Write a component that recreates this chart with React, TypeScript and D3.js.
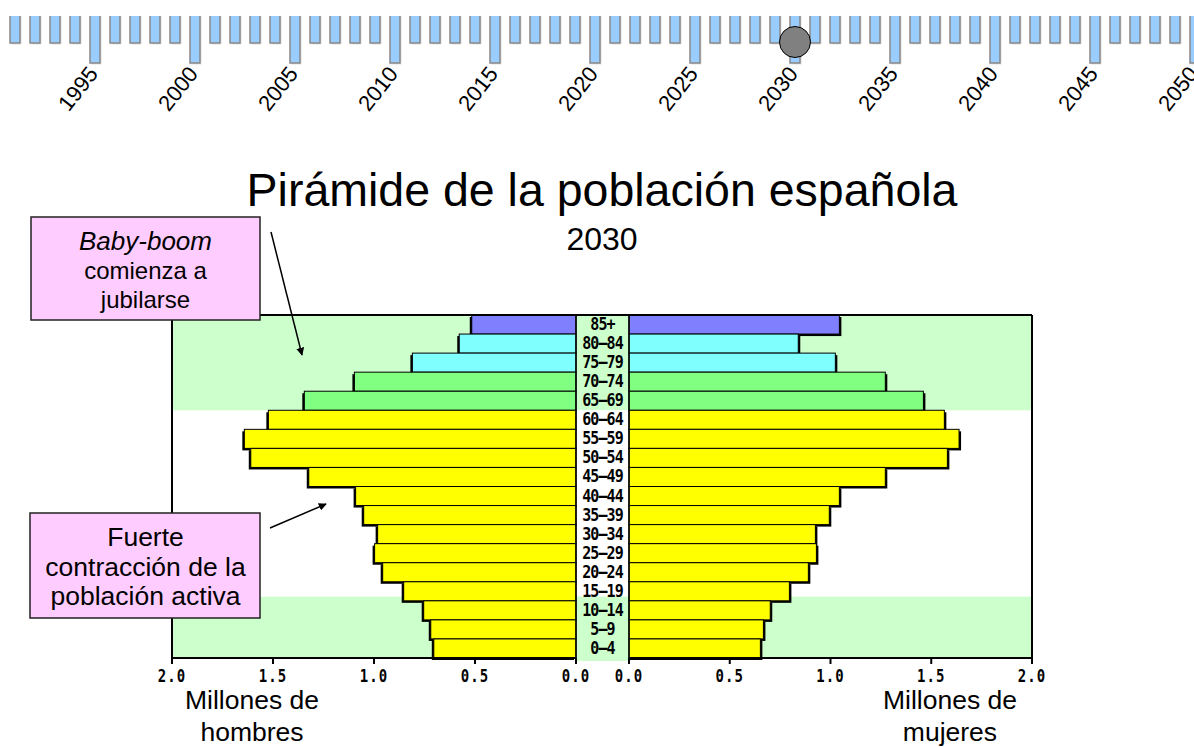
import React from 'react';
import * as d3 from 'd3';

// ---- Data ----
const ageGroups = ['85+', '80-84', '75-79', '70-74', '65-69', '60-64', '55-59', '50-54', '45-49', '40-44', '35-39', '30-34', '25-29', '20-24', '15-19', '10-14', '5-9', '0-4'];
const hombres = [0.516, 0.578, 0.81, 1.097, 1.345, 1.523, 1.642, 1.61, 1.323, 1.091, 1.051, 0.982, 0.997, 0.957, 0.853, 0.754, 0.719, 0.704];
const mujeres = [1.044, 0.84, 1.024, 1.272, 1.461, 1.565, 1.638, 1.58, 1.272, 1.044, 0.994, 0.925, 0.93, 0.89, 0.796, 0.701, 0.667, 0.652];
const xTicks = [0, 0.5, 1, 1.5, 2];
const timelineYears = d3.range(1991, 2051);
const labelYears = [1995, 2000, 2005, 2010, 2015, 2020, 2025, 2030, 2035, 2040, 2045, 2050];
const selectedYear = 2030;
const titleText = 'Pirámide de la población española';

const W = 1194;
const H = 747;
const SANS = '"Liberation Sans", Arial, sans-serif';
const MONO = '"DejaVu Sans Mono", monospace';

function colorOf(age: string): string {
  if (age === '85+') return '#8080ff';
  if (age === '80-84' || age === '75-79') return '#80ffff';
  if (age === '70-74' || age === '65-69') return '#80ff80';
  return '#ffff00';
}

export default function App() {
  const top = 315;
  const bottom = 658;
  const xL = d3.scaleLinear().domain([0, 2]).range([576, 172]);
  const xR = d3.scaleLinear().domain([0, 2]).range([629, 1032]);
  const y = d3.scaleBand<string>().domain(ageGroups).range([top, bottom]).padding(0);
  const bw = y.bandwidth();
  const fmt = d3.format('.1f');

  const xYear = d3.scaleLinear().domain([1991, 2050]).range([10, 1190]);
  const barW = 10;

  const greenTopEnd = (y('65-69') as number) + bw;
  const greenBottomStart = (y('10-14') as number) - 0.22 * bw;

  const shadow = 2;
  const midX = (xL(0) + xR(0)) / 2;

  return (
    <svg width={W} height={H} style={{ position: 'absolute', left: 0, top: 0, background: '#fff' }}>
      <defs>
        <marker id="arr" viewBox="0 0 10 10" refX="9" refY="5" markerWidth="8" markerHeight="8" orient="auto" markerUnits="userSpaceOnUse">
          <path d="M0,0 L10,5 L0,10 z" fill="#000" />
        </marker>
      </defs>

      {/* Timeline */}
      {timelineYears.map((yr) => {
        const x0 = xYear(yr);
        const long = yr % 5 === 0;
        const yb = long ? 63 : 43;
        return (
          <g key={yr}>
            <rect x={x0 + 1.5} y={16} width={barW} height={yb - 16 + 1.5} fill="#e0e0e0" />
            <rect x={x0} y={16} width={barW} height={yb - 16} fill="#99ccff" />
            <path d={`M${x0},16 V${yb} H${x0 + barW} V16`} fill="none" stroke="#888" strokeWidth={1.5} />
          </g>
        );
      })}
      {labelYears.map((yr) => {
        const x0 = xYear(yr) + 9;
        return (
          <text key={yr} x={x0} y={74} transform={`rotate(-52, ${x0}, 74)`} textAnchor="end" fontFamily={SANS} fontSize={22} fill="#000">
            {yr}
          </text>
        );
      })}
      <circle cx={xYear(selectedYear) + barW / 2} cy={42} r={15.5} fill="#808080" stroke="#000" strokeWidth={1} />

      {/* Title */}
      <text x={602} y={206} textAnchor="middle" fontFamily={SANS} fontSize={46.5} fill="#000">{titleText}</text>
      <text x={602} y={250} textAnchor="middle" fontFamily={SANS} fontSize={32} fill="#000">{String(selectedYear)}</text>

      {/* Background bands */}
      <rect x={xL(2)} y={top} width={xR(2) - xL(2)} height={greenTopEnd - top} fill="#ccffcc" />
      <rect x={xL(2)} y={greenBottomStart} width={xR(2) - xL(2)} height={bottom - greenBottomStart} fill="#ccffcc" />
      <rect x={xL(0)} y={greenBottomStart} width={xR(0) - xL(0)} height={bottom + 3 - greenBottomStart} fill="#ccffcc" />

      {/* Bars: shadows */}
      {ageGroups.map((a, i) => (
        <g key={'s' + a}>
          <rect x={xL(hombres[i]) - shadow} y={(y(a) as number) + shadow} width={xL(0) - xL(hombres[i])} height={bw} fill="#000" />
          <rect x={xR(0)} y={(y(a) as number) + shadow} width={xR(mujeres[i]) - xR(0) + shadow} height={bw} fill="#000" />
        </g>
      ))}
      {/* Bars */}
      {ageGroups.map((a, i) => (
        <g key={'b' + a}>
          <rect x={xL(hombres[i])} y={y(a)} width={xL(0) - xL(hombres[i])} height={bw} fill={colorOf(a)} stroke="#000" strokeWidth={1} />
          <rect x={xR(0)} y={y(a)} width={xR(mujeres[i]) - xR(0)} height={bw} fill={colorOf(a)} stroke="#000" strokeWidth={1} />
        </g>
      ))}

      {/* Label column background (cover shadows) */}
      <rect x={xL(0) + 1} y={top} width={xR(0) - xL(0) - 2} height={greenTopEnd - top} fill="#ccffcc" />
      <rect x={xL(0) + 1} y={greenTopEnd} width={xR(0) - xL(0) - 2} height={greenBottomStart - greenTopEnd} fill="#fff" />
      <rect x={xL(0) + 1} y={greenBottomStart} width={xR(0) - xL(0) - 2} height={bottom + 3 - greenBottomStart} fill="#ccffcc" />

      {/* Frame lines */}
      <line x1={xL(2)} x2={xR(2)} y1={top} y2={top} stroke="#000" strokeWidth={2} />
      <line x1={xL(2)} x2={xL(2)} y1={top} y2={bottom} stroke="#000" strokeWidth={2} />
      <line x1={xR(2)} x2={xR(2)} y1={top} y2={bottom} stroke="#000" strokeWidth={2} />
      <line x1={xL(0)} x2={xL(0)} y1={top} y2={bottom + 5} stroke="#000" strokeWidth={1.5} />
      <line x1={xR(0)} x2={xR(0)} y1={top} y2={bottom + 5} stroke="#000" strokeWidth={1.5} />
      <line x1={xL(2)} x2={xL(0)} y1={bottom} y2={bottom} stroke="#000" strokeWidth={2} />
      <line x1={xR(0)} x2={xR(2)} y1={bottom} y2={bottom} stroke="#000" strokeWidth={2} />

      {/* Age labels */}
      {ageGroups.map((a) => {
        const cy = (y(a) as number) + bw / 2 + 5.5;
        return (
          <text key={'l' + a} x={midX} y={cy} transform={`translate(0 ${-cy * 0.18}) scale(1 1.18)`} textAnchor="middle" fontFamily={MONO} fontWeight="bold" fontSize={15} letterSpacing={-0.9} fill="#000">
            {a.replace('-', '\u2013')}
          </text>
        );
      })}

      {/* Axis ticks */}
      {xTicks.map((t) => (
        <g key={'t' + t}>
          <line x1={xL(t)} x2={xL(t)} y1={bottom} y2={bottom + 6} stroke="#000" strokeWidth={2} />
          <text x={xL(t)} y={682} transform={`translate(0 ${-682 * 0.2}) scale(1 1.2)`} textAnchor="middle" fontFamily={MONO} fontWeight="bold" fontSize={14} letterSpacing={1} fill="#000">{fmt(t)}</text>
          <line x1={xR(t)} x2={xR(t)} y1={bottom} y2={bottom + 6} stroke="#000" strokeWidth={2} />
          <text x={xR(t)} y={682} transform={`translate(0 ${-682 * 0.2}) scale(1 1.2)`} textAnchor="middle" fontFamily={MONO} fontWeight="bold" fontSize={14} letterSpacing={1} fill="#000">{fmt(t)}</text>
        </g>
      ))}

      {/* Axis titles */}
      <text textAnchor="middle" fontFamily={SANS} fontSize={26.5} fill="#000">
        <tspan x={252} y={709}>Millones de</tspan>
        <tspan x={252} y={741}>hombres</tspan>
      </text>
      <text textAnchor="middle" fontFamily={SANS} fontSize={26.5} fill="#000">
        <tspan x={950} y={709}>Millones de</tspan>
        <tspan x={950} y={741}>mujeres</tspan>
      </text>

      {/* Annotation 1 */}
      <rect x={31} y={217} width={229} height={103} fill="#ffccff" stroke="#222" strokeWidth={1.5} />
      <text textAnchor="middle" fontFamily={SANS} fontSize={24} fill="#000">
        <tspan x={145.5} y={250} fontStyle="italic" fontSize={26}>Baby-boom</tspan>
        <tspan x={145.5} y={279}>comienza a</tspan>
        <tspan x={145.5} y={308}>jubilarse</tspan>
      </text>
      <line x1={271} y1={232} x2={302} y2={355} stroke="#000" strokeWidth={1.5} markerEnd="url(#arr)" />

      {/* Annotation 2 */}
      <rect x={30} y={513} width={230} height={105} fill="#ffccff" stroke="#222" strokeWidth={1.5} />
      <text textAnchor="middle" fontFamily={SANS} fontSize={26.5} fill="#000">
        <tspan x={145.5} y={546}>Fuerte</tspan>
        <tspan x={145.5} y={576}>contracción de la</tspan>
        <tspan x={145.5} y={605}>población activa</tspan>
      </text>
      <line x1={270} y1={528} x2={326} y2={504} stroke="#000" strokeWidth={1.5} markerEnd="url(#arr)" />
    </svg>
  );
}
